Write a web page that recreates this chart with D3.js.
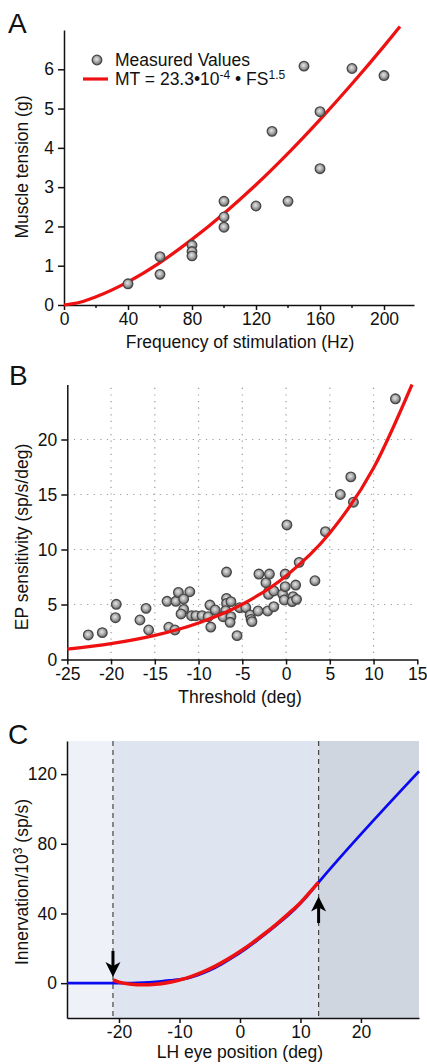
<!DOCTYPE html>
<html>
<head>
<meta charset="utf-8">
<script src="https://cdn.jsdelivr.net/npm/d3@7"></script>
<style>
  body { margin: 0; background: #fff; }
  svg text { font-family: "Liberation Sans", Arial, sans-serif; fill: #111; }
  .axis path, .axis line { stroke: #111; stroke-width: 1.5; }
  .grid line { stroke: #9a9a9a; stroke-width: 1.2; stroke-dasharray: 1.2 5.4; }
</style>
</head>
<body>
<svg id="fig" width="427" height="1064"></svg>
<script>
// ---- panel A : muscle tension vs stimulation frequency ----
let freqA    = [40, 60, 60, 80, 80, 80, 100, 100, 100, 120, 130, 140, 150, 160, 160, 180, 200];
let tensionA = [0.54, 1.23, 0.78, 1.52, 1.36, 1.25, 2.64, 2.24, 1.98, 2.52, 4.42, 2.64, 6.08, 4.92, 3.47, 6.02, 5.84];
// fit MT = 23.3e-4 * FS^1.5, read at these frequencies
let fitFreqA    = [0, 10, 20, 40, 60, 80, 100, 120, 140, 160, 180, 200, 210];
let fitTensionA = [0, 0.07, 0.21, 0.59, 1.08, 1.67, 2.33, 3.06, 3.86, 4.72, 5.63, 6.59, 7.09];
let ticksXA = [0, 40, 80, 120, 160, 200];
let minorXA = [20, 60, 100, 140, 180];
let ticksYA = [0, 1, 2, 3, 4, 5, 6];

// ---- panel B : EP sensitivity vs threshold ----
let thrB = [-22.6, -21.0, -19.4, -19.5, -16.7, -16.0, -15.7, -13.6, -13.4, -12.7, -12.6, -12.3, -11.7, -11.7, -12.0,
            -11.0, -10.8, -10.3, -9.6, -8.9, -8.7, -8.6, -8.1, -6.8, -6.8, -6.8, -6.3, -6.9, -7.2, -6.3, -6.4,
            -5.6, -5.3, -4.6, -4.1, -4.0, -3.9, -3.2, -3.1, -2.3, -1.9, -2.0, -2.0, -1.4, -2.1, -1.4, -0.4,
            -0.1, -0.1, -0.2, 0.8, 1.1, 0.7, 1.2, 0.1, 1.5, 3.3, 4.5, 6.2, 7.4, 7.7, 12.5];
let sensB = [2.23, 2.44, 5.02, 3.8, 3.59, 4.65, 2.68, 5.29, 2.93, 2.68, 5.29, 6.1, 5.5, 4.56, 4.14,
             6.16, 3.98, 3.98, 3.98, 3.89, 4.95, 2.95, 4.5, 7.95, 5.56, 5.1, 5.26, 4.44, 3.89, 3.89, 3.38,
             2.17, 4.71, 4.71, 4.05, 3.65, 3.44, 4.41, 7.77, 6.98, 7.77, 6.16, 5.92, 6.23, 4.41, 4.8, 5.95,
             7.77, 6.62, 5.41, 5.71, 6.77, 5.26, 5.47, 12.23, 8.83, 7.16, 11.62, 15.0, 16.6, 14.3, 23.7];
let fitThrB  = [-25, -20, -15, -10, -5, 0, 5, 10, 14.4];
let fitSensB = [0.95, 1.44, 2.19, 3.32, 5.02, 7.6, 11.5, 17.4, 25];
let ticksXB = [-25, -20, -15, -10, -5, 0, 5, 10, 15];
let ticksYB = [0, 5, 10, 15, 20];
let gridXB  = [-20, -15, -10, -5, 0, 5, 10];
let gridYB  = [5, 10, 15, 20];

// ---- panel C : innervation vs eye position ----
let posBlueC = [-28.6, -21, -19, -17, -15, -13, -11, -9, -7, -5, -3, -1, 1, 3, 5, 7, 9, 11, 13, 29.6];
let innBlueC = [0, 0, 0.05, 0.2, 0.5, 1.0, 1.8, 2.6, 4.6, 7.4, 11.0, 15.2, 19.9, 25.0, 30.4, 36.1, 42.3, 49.6, 57.9, 121.6];
let posRedC  = [-21, -20, -18, -16, -14, -12, -10, -8, -6, -4, -2, 0, 2, 4, 6, 8, 10, 12, 13];
let innRedC  = [1.8, 0.6, -0.6, -0.9, -0.6, 0.3, 1.8, 3.9, 6.6, 9.9, 13.8, 18.2, 23.0, 28.2, 33.8, 39.8, 46.2, 54.0, 58.0];
let zoneEdgesC = [-21, 13];
let ticksXC = [-20, -10, 0, 10, 20];
let ticksYC = [0, 40, 80, 120];

let svg = d3.select("#fig");
let defs = svg.append("defs");
let grad = defs.append("radialGradient").attr("id", "ball")
    .attr("cx", "45%").attr("cy", "42%").attr("r", "60%");
grad.append("stop").attr("offset", "0%").attr("stop-color", "#e6e6e6");
grad.append("stop").attr("offset", "55%").attr("stop-color", "#a3a3a3");
grad.append("stop").attr("offset", "100%").attr("stop-color", "#5c5c5c");

let fmt = d => String(d);   // plain hyphen minus, as in the figure
let tickFont = 17.5, titleFont = 17.5;

function styleAxis(g) {
  g.attr("class", "axis").attr("font-size", tickFont)
   .attr("font-family", "Liberation Sans, Arial, sans-serif");
  g.selectAll("text").style("fill", "#111");
}

function ylabel(parts, cx, cy) {
  let t = svg.append("text")
      .attr("transform", `translate(${cx},${cy}) rotate(-90)`)
      .attr("text-anchor", "middle")
      .attr("font-size", titleFont);
  parts.forEach(p => {
    let s = t.append("tspan").text(p.t);
    if (p.sup) s.attr("dy", -6).attr("font-size", 12);
    else if (p.after) s.attr("dy", 6);
  });
}

function panelLetter(txt, x, y) {
  svg.append("text").attr("x", x).attr("y", y).attr("font-size", 28).text(txt);
}

function balls(g, xs, ys, x, y) {
  g.selectAll("circle").data(xs).join("circle")
    .attr("cx", d => x(d))
    .attr("cy", (d, i) => y(ys[i]))
    .attr("r", 4.8)
    .attr("fill", "url(#ball)")
    .attr("stroke", "#474747")
    .attr("stroke-width", 1.3);
}

// ================= A =================
{
  let x = d3.scaleLinear().domain([0, 218.75]).range([64, 414]);
  let y = d3.scaleLinear().domain([0, 7]).range([305, 30]);

  let ax = svg.append("g").attr("transform", `translate(0,${y(0)})`)
      .call(d3.axisBottom(x).tickValues(ticksXA).tickFormat(fmt).tickSize(5).tickSizeOuter(0).tickPadding(3));
  styleAxis(ax);
  svg.append("g").attr("class", "axis").attr("transform", `translate(0,${y(0)})`)
      .selectAll("line").data(minorXA).join("line")
      .attr("x1", d => x(d)).attr("x2", d => x(d)).attr("y1", 0).attr("y2", 3);

  let ay = svg.append("g").attr("transform", `translate(${x(0)},0)`)
      .call(d3.axisLeft(y).tickValues(ticksYA).tickFormat(fmt).tickSize(6).tickSizeOuter(0).tickPadding(4));
  styleAxis(ay);

  let line = d3.line().x(d => x(d)).y((d, i) => y(fitTensionA[i])).curve(d3.curveMonotoneX);
  svg.append("path").attr("d", line(fitFreqA))
      .attr("fill", "none").attr("stroke", "#ee1111").attr("stroke-width", 3.2);

  balls(svg.append("g"), freqA, tensionA, x, y);

  // legend
  svg.append("circle").attr("cx", 97).attr("cy", 60).attr("r", 4.8)
      .attr("fill", "url(#ball)").attr("stroke", "#474747").attr("stroke-width", 1.3);
  svg.append("text").attr("x", 115).attr("y", 66).attr("font-size", titleFont).text("Measured Values");
  svg.append("line").attr("x1", 83).attr("x2", 108).attr("y1", 79).attr("y2", 79)
      .attr("stroke", "#ee1111").attr("stroke-width", 3.2);
  let lt = svg.append("text").attr("x", 115).attr("y", 85).attr("font-size", titleFont);
  lt.append("tspan").text("MT = 23.3•10");
  lt.append("tspan").attr("dy", -6).attr("font-size", 12).text("-4");
  lt.append("tspan").attr("dy", 6).text(" • FS");
  lt.append("tspan").attr("dy", -6).attr("font-size", 12).text("1.5");

  svg.append("text").attr("x", 240).attr("y", 348).attr("text-anchor", "middle")
      .attr("font-size", titleFont).text("Frequency of stimulation (Hz)");
  ylabel([{t: "Muscle tension (g)"}], 28, 167);
  panelLetter("A", 8, 33);
}

// ================= B =================
{
  let x = d3.scaleLinear().domain([-25, 15]).range([67.3, 417.3]);
  let y = d3.scaleLinear().domain([0, 25]).range([659.5, 384.5]);

  let grid = svg.append("g").attr("class", "grid");
  grid.selectAll("line.v").data(gridXB).join("line").attr("class", "v")
      .attr("x1", d => x(d)).attr("x2", d => x(d)).attr("y1", y(24.7)).attr("y2", y(0));
  grid.selectAll("line.h").data(gridYB).join("line").attr("class", "h")
      .attr("x1", x(-25)).attr("x2", x(14.4)).attr("y1", d => y(d)).attr("y2", d => y(d));

  let ax = svg.append("g").attr("transform", `translate(0,${y(0)})`)
      .call(d3.axisBottom(x).tickValues(ticksXB).tickFormat(fmt).tickSize(5).tickSizeOuter(0).tickPadding(3));
  styleAxis(ax);
  let ay = svg.append("g").attr("transform", `translate(${x(-25)},0)`)
      .call(d3.axisLeft(y).tickValues(ticksYB).tickFormat(fmt).tickSize(6).tickSizeOuter(0).tickPadding(4));
  styleAxis(ay);

  balls(svg.append("g"), thrB, sensB, x, y);

  let line = d3.line().x(d => x(d)).y((d, i) => y(fitSensB[i])).curve(d3.curveMonotoneX);
  svg.append("path").attr("d", line(fitThrB))
      .attr("fill", "none").attr("stroke", "#ee1111").attr("stroke-width", 3.2);

  svg.append("text").attr("x", 240).attr("y", 703).attr("text-anchor", "middle")
      .attr("font-size", titleFont).text("Threshold (deg)");
  ylabel([{t: "EP sensitivity (sp/s/deg)"}], 28, 537);
  panelLetter("B", 9, 385);
}

// ================= C =================
{
  let x = d3.scaleLinear().domain([-28.6, 29.6]).range([67, 419]);
  let y = d3.scaleLinear().domain([-20, 139]).range([1018, 741]);

  let zones = [[-28.6, zoneEdgesC[0]], [zoneEdgesC[0], zoneEdgesC[1]], [zoneEdgesC[1], 29.6]];
  let zoneFill = ["#eef1f7", "#dee5f0", "#d0d6e0"];
  svg.append("g").selectAll("rect").data(zones).join("rect")
      .attr("x", d => x(d[0])).attr("width", d => x(d[1]) - x(d[0]))
      .attr("y", y(139)).attr("height", y(-20) - y(139))
      .attr("fill", (d, i) => zoneFill[i]);

  svg.append("g").selectAll("line").data(zoneEdgesC).join("line")
      .attr("x1", d => x(d)).attr("x2", d => x(d)).attr("y1", y(139)).attr("y2", y(-20))
      .attr("stroke", "#444").attr("stroke-width", 1.2).attr("stroke-dasharray", "5 4");

  let ax = svg.append("g").attr("transform", `translate(0,${y(-20)})`)
      .call(d3.axisBottom(x).tickValues(ticksXC).tickFormat(fmt).tickSize(5).tickSizeOuter(0).tickPadding(3));
  styleAxis(ax);
  let ay = svg.append("g").attr("transform", `translate(${x(-28.6)},0)`)
      .call(d3.axisLeft(y).tickValues(ticksYC).tickFormat(fmt).tickSize(6).tickSizeOuter(0).tickPadding(4));
  styleAxis(ay);

  let blue = d3.line().x(d => x(d)).y((d, i) => y(innBlueC[i])).curve(d3.curveMonotoneX);
  svg.append("path").attr("d", blue(posBlueC))
      .attr("fill", "none").attr("stroke", "#0a0af0").attr("stroke-width", 2.8);
  let red = d3.line().x(d => x(d)).y((d, i) => y(innRedC[i])).curve(d3.curveMonotoneX);
  svg.append("path").attr("d", red(posRedC))
      .attr("fill", "none").attr("stroke", "#ee1111").attr("stroke-width", 3.6);

  // arrows at the zone edges
  let arrows = [{at: -21, from: 18.5, to: 3.5}, {at: 13, from: 34.5, to: 49.8}];
  arrows.forEach(a => {
    let px = x(a.at), y0 = y(a.from), y1 = y(a.to);
    let dir = y1 > y0 ? 1 : -1;
    svg.append("line").attr("x1", px).attr("x2", px).attr("y1", y0).attr("y2", y1 - dir * 8)
        .attr("stroke", "#000").attr("stroke-width", 3);
    svg.append("path")
        .attr("d", `M${px},${y1} L${px - 7.5},${y1 - dir * 15} L${px},${y1 - dir * 11} L${px + 7.5},${y1 - dir * 15} Z`)
        .attr("fill", "#000");
  });

  svg.append("text").attr("x", 240).attr("y", 1058).attr("text-anchor", "middle")
      .attr("font-size", titleFont).text("LH eye position (deg)");
  ylabel([{t: "Innervation/10"}, {t: "3", sup: true}, {t: " (sp/s)", after: true}], 28, 882);
  panelLetter("C", 8, 744);
}
</script>
</body>
</html>
